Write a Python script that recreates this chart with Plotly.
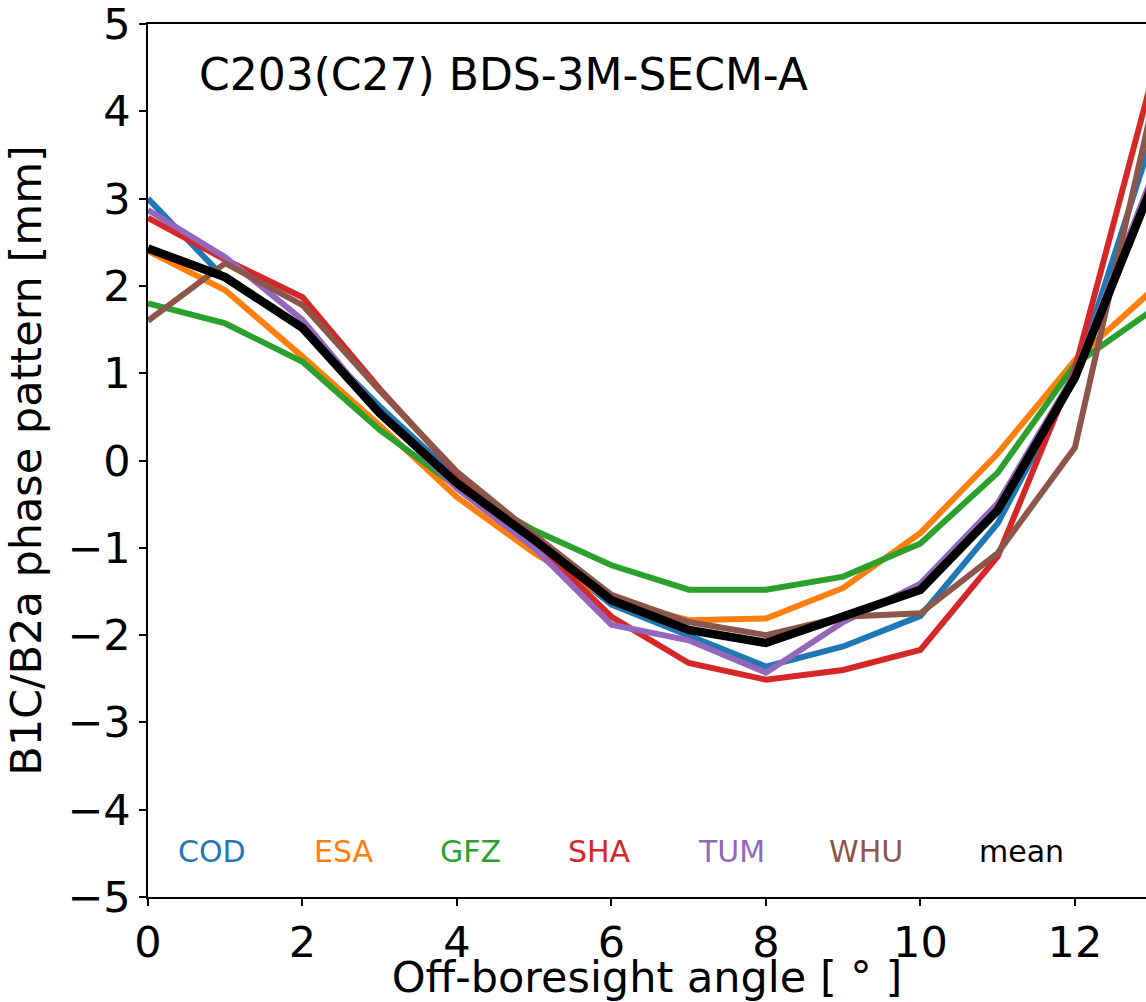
import plotly.graph_objects as go

angles = [0, 1, 2, 3, 4, 5, 6, 7, 8, 9, 10, 11, 12, 13]
cod = [3.00, 2.08, 1.50, 0.62, -0.20, -0.95, -1.65, -2.00, -2.36, -2.13, -1.78, -0.72, 0.95, 3.70]
esa = [2.40, 1.95, 1.19, 0.40, -0.42, -1.06, -1.60, -1.83, -1.81, -1.46, -0.83, 0.08, 1.15, 1.95]
gfz = [1.80, 1.57, 1.13, 0.35, -0.30, -0.80, -1.20, -1.48, -1.48, -1.33, -0.95, -0.14, 1.10, 1.72]
sha = [2.78, 2.30, 1.87, 0.82, -0.15, -0.93, -1.79, -2.32, -2.51, -2.40, -2.17, -1.10, 1.05, 4.38]
tum = [2.87, 2.33, 1.61, 0.55, -0.32, -1.00, -1.88, -2.06, -2.43, -1.85, -1.41, -0.49, 1.00, 3.25]
whu = [1.60, 2.26, 1.78, 0.80, -0.13, -0.85, -1.54, -1.85, -2.00, -1.79, -1.75, -1.06, 0.15, 4.05]
mean = [2.43, 2.10, 1.52, 0.54, -0.26, -0.91, -1.60, -1.94, -2.09, -1.78, -1.48, -0.57, 0.95, 3.15]

series_names = ["COD", "ESA", "GFZ", "SHA", "TUM", "WHU", "mean"]
series_values = [cod, esa, gfz, sha, tum, whu, mean]
colors = ["#1f77b4", "#ff7f0e", "#2ca02c", "#d62728", "#9467bd", "#8c564b", "#000000"]
widths = [6, 6, 6, 6, 6, 6, 8.5]
label_x = [0.83, 2.54, 4.18, 5.85, 7.56, 9.29, 11.31]
label_y = -4.48

title_text = "C203(C27) BDS-3M-SECM-A"
x_title = "Off-boresight angle [ ° ]"
y_title = "B1C/B2a phase pattern [mm]"
y_ticks = [-5, -4, -3, -2, -1, 0, 1, 2, 3, 4, 5]
y_ticktext = ["−5", "−4", "−3", "−2", "−1", "0", "1", "2", "3", "4", "5"]
x_ticks = [0, 2, 4, 6, 8, 10, 12]

FONT = "DejaVu Sans"

fig = go.Figure()
for name, vals, c, w in zip(series_names, series_values, colors, widths):
    fig.add_trace(go.Scatter(x=angles, y=vals, mode="lines", name=name,
                             line=dict(color=c, width=w), showlegend=False))

for name, c, lx in zip(series_names, colors, label_x):
    fig.add_annotation(x=lx, y=label_y, text=name, showarrow=False,
                       xanchor="center", yanchor="middle",
                       font=dict(family=FONT, size=30, color=c))

fig.add_annotation(x=0.63, y=4.42, text=title_text, showarrow=False,
                   xanchor="left", yanchor="middle",
                   font=dict(family=FONT, size=44, color="black"))

fig.update_layout(
    width=1146, height=1002,
    margin=dict(l=148, r=0, t=24, b=105),
    plot_bgcolor="white", paper_bgcolor="white",
    font=dict(family=FONT, size=43, color="black"),
)
fig.update_xaxes(range=[0, 12.92], tickvals=x_ticks,
                 showgrid=False, zeroline=False, showline=True, linecolor="black",
                 linewidth=1.5, mirror=True, ticks="outside", ticklen=7, tickwidth=1.5,
                 tickcolor="black", tickfont=dict(size=43), ticklabeloverflow="allow",
                 title=dict(text=x_title, font=dict(size=43), standoff=5))
fig.update_yaxes(range=[-5, 5], tickvals=y_ticks, ticktext=y_ticktext,
                 showgrid=False, zeroline=False, showline=True, linecolor="black",
                 linewidth=1.5, ticks="outside", ticklen=7, tickwidth=1.5,
                 tickcolor="black", tickfont=dict(size=43), ticklabeloverflow="allow",
                 title=dict(text=y_title, font=dict(size=43), standoff=12))

fig.write_html("out.html", config={"displayModeBar": False},
               post_script="document.body.style.margin='0';document.body.style.overflow='hidden';")
